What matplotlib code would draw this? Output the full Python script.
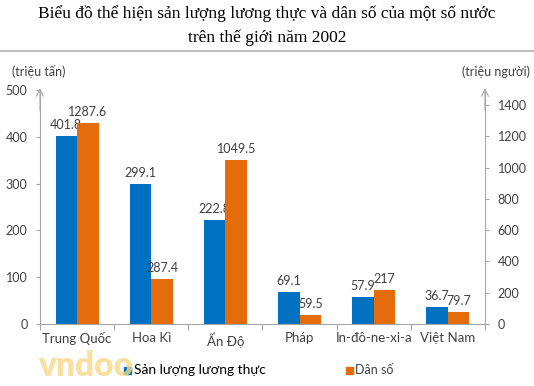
import matplotlib
matplotlib.use("Agg")
import matplotlib.pyplot as plt
import numpy as np
from matplotlib.lines import Line2D

countries = ["Trung Quốc", "Hoa Kì", "Ấn Độ", "Pháp", "In-đô-ne-xi-a", "Việt Nam"]
food = [401.8, 299.1, 222.8, 69.1, 57.9, 36.7]
population = [1287.6, 287.4, 1049.5, 59.5, 217, 79.7]
food_labels = ["401.8", "299.1", "222.8", "69.1", "57.9", "36.7"]
pop_labels = ["1287.6", "287.4", "1049.5", "59.5", "217", "79.7"]
left_ticks = [0, 100, 200, 300, 400, 500]
right_ticks = [0, 200, 400, 600, 800, 1000, 1200, 1400]

blue = "#0070C0"
orange = "#E46C0A"
axis_gray = "#A6A6A6"
text_col = "#404040"
FONT = ["Lato", "DejaVu Sans"]

plt.rcParams['font.family'] = FONT
fig = plt.figure(figsize=(5.34, 3.86), dpi=100)
ax = fig.add_axes([40/534, 1-324/386, 445/534, 234/386])
ax2 = ax.twinx()

x = np.arange(len(countries))
w = 0.29
ax.bar(x - w/2, food, w, color=blue, zorder=3)
ax2.bar(x + w/2, population, w, color=orange, zorder=3)

ax.set_xlim(-0.5, len(countries) - 0.5)
ax.set_ylim(0, 500)
ax2.set_ylim(0, 1496)

for xi, v, s in zip(x, food, food_labels):
    ax.annotate(s, (xi - w/2, v), xytext=(0, 3.5), textcoords="offset points",
                ha="center", va="bottom", fontsize=9, color=text_col)
for xi, v, s in zip(x, population, pop_labels):
    ax2.annotate(s, (xi + w/2, v), xytext=(0, 3.5), textcoords="offset points",
                 ha="center", va="bottom", fontsize=9, color=text_col)

for a in (ax, ax2):
    a.spines["top"].set_visible(False)
    for sp in ("left", "right", "bottom"):
        a.spines[sp].set_color(axis_gray)
ax.spines["right"].set_visible(False)
ax2.spines["left"].set_visible(False)
ax2.spines["bottom"].set_visible(False)

ax.set_yticks(left_ticks)
ax2.set_yticks(right_ticks)
ax.tick_params(axis="y", colors=axis_gray, labelcolor=text_col, labelsize=9, length=3, width=0.8, pad=6)
ax2.tick_params(axis="y", colors=axis_gray, labelcolor=text_col, labelsize=9, length=3, width=0.8, pad=6)

ax.set_xticks(x)
ax.set_xticklabels(countries, fontsize=9.5, color=text_col)
ax.set_xticks(np.arange(-0.5, len(countries)), minor=True)
ax.tick_params(axis="x", which="major", length=0, pad=6)
ax.tick_params(axis="x", which="minor", length=4, color=axis_gray, width=0.8)

# arrows at tops of axes
for xa in (0, 1):
    ax.annotate("", xy=(xa, 1.02), xytext=(xa, 0.9), xycoords="axes fraction",
                arrowprops=dict(arrowstyle="->,head_width=0.25,head_length=0.5", color=axis_gray, lw=0.8))

fig.text(12/534, 1-72/386, "(triệu tấn)", fontsize=9, color=text_col, va="center")
fig.text(530/534, 1-72/386, "(triệu người)", fontsize=9, color=text_col,
         va="center", ha="right")

fig.text(0.5, 1-14/386, "Biểu đồ thể hiện sản lượng lương thực và dân số của một số nước",
         fontsize=12.5, family="Liberation Serif", ha="center", va="center", color="black")
fig.text(0.5, 1-38/386, "trên thế giới năm 2002",
         fontsize=12.5, family="Liberation Serif", ha="center", va="center", color="black")
fig.add_artist(Line2D([0, 1], [1-51/386, 1-51/386], color="#BFBFBF", lw=1.5))

# legend
fig.patches.append(plt.Rectangle((124/534, 1-374/386), 7/534, 7/386, transform=fig.transFigure,
                                 color=blue, figure=fig))
fig.text(134/534, 1-370/386, "Sản lượng lương thực", fontsize=10, color="black", va="center")
fig.patches.append(plt.Rectangle((346/534, 1-374/386), 7/534, 7/386, transform=fig.transFigure,
                                 color=orange, figure=fig))
fig.text(355/534, 1-370/386, "Dân số", fontsize=9, color=text_col, va="center")

# watermark
fig.text(38/534, 1-366/386, "vndoo", fontsize=24, color="#F8D98A", fontweight="heavy",
         va="center", alpha=0.8)

fig.savefig("out.png", dpi=100)
